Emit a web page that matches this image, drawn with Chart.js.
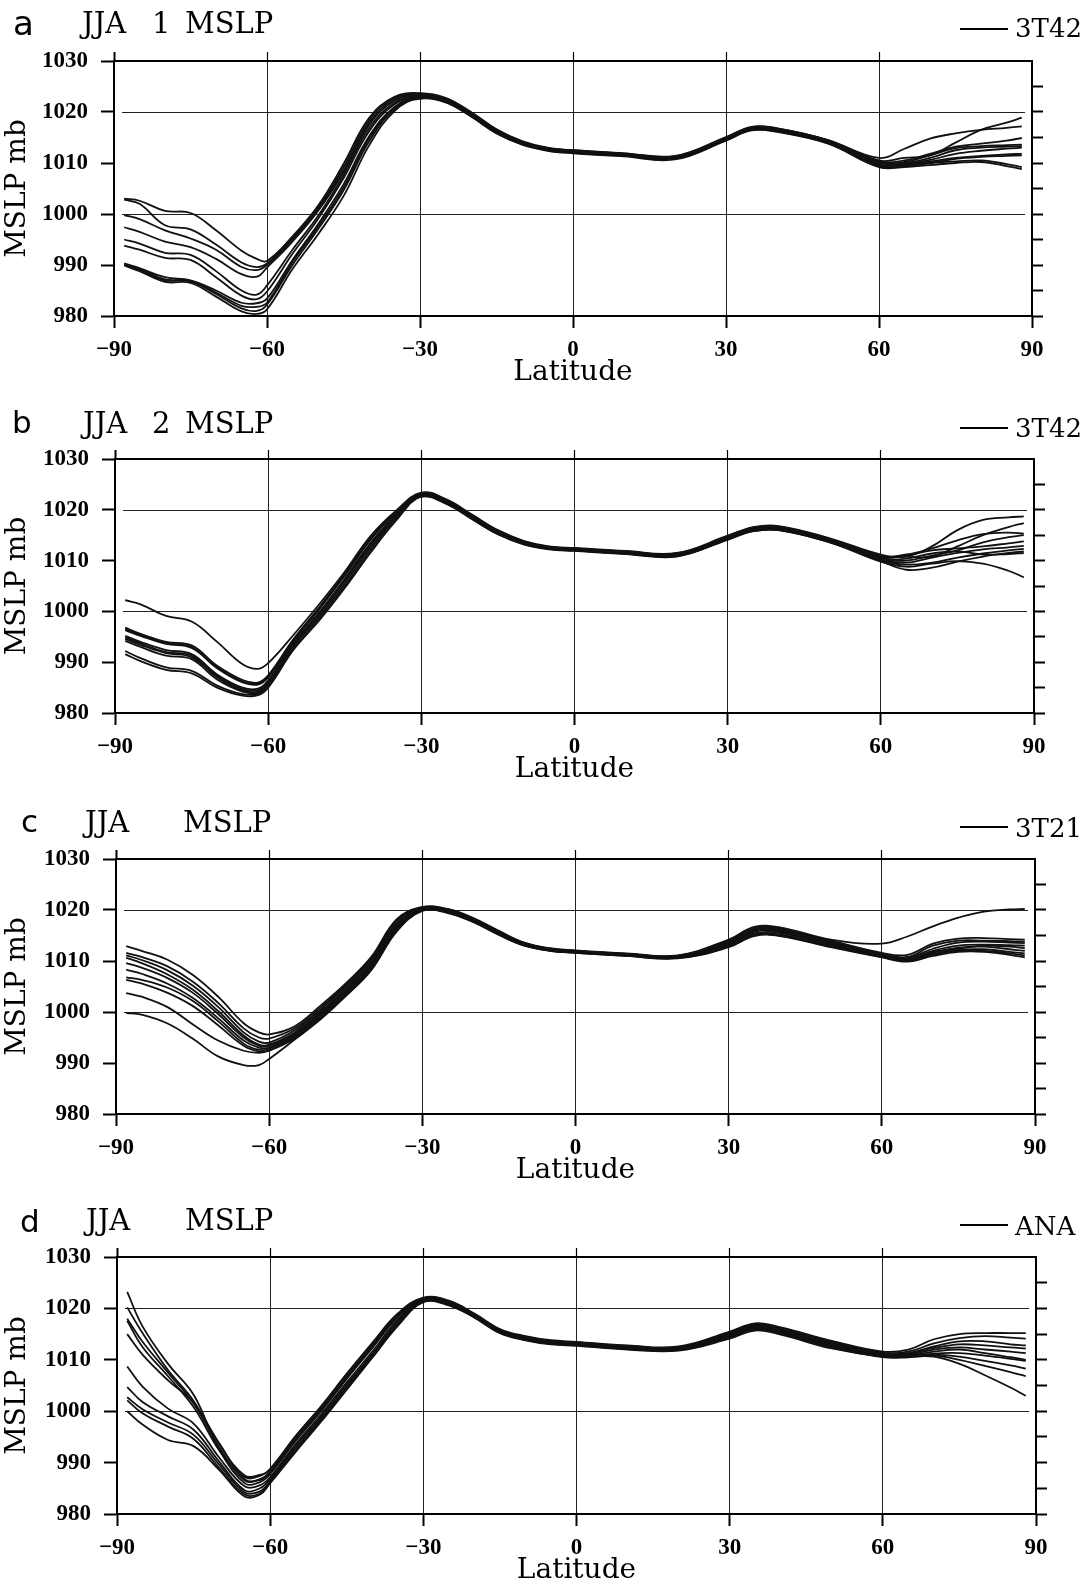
<!DOCTYPE html>
<html>
<head>
<meta charset="utf-8">
<script src="https://cdn.jsdelivr.net/npm/chart.js@4.4.1/dist/chart.umd.min.js"></script>
<style>
  html, body { margin: 0; padding: 0; background: #fff; overflow: hidden; }
  body { width: 1091px; height: 1586px; position: relative; }
  canvas { position: absolute; left: 0; }
  .ttl { position: absolute; line-height: 1; white-space: pre; color: #000; font-family: "DejaVu Serif", serif; }
  .let { position: absolute; line-height: 1; color: #000; font-family: "DejaVu Sans", sans-serif; }
  .key { position: absolute; height: 2px; background: #000; }
</style>
</head>
<body>
<script>
// ---- JJA zonal-mean MSLP, one line per ensemble member ----
const lat = [-88, -85, -80, -75, -70, -65, -62, -60, -55, -50, -45, -40, -35,
  -30, -25, -20, -15, -10, -5, 0, 10, 20, 30, 35, 40, 50,
  60, 65, 70, 75, 80, 85, 88];
const gridLevels = [1000, 1020];

// a: JJA 1, 3T42
const jja1 = [
  [1003.0, 1002.6, 1000.6, 1000.2, 996.8, 992.8, 991.2, 990.8, 995.6, 1001.6, 1009.8, 1018.8, 1023.0, 1023.7, 1022.8, 1020.0, 1016.6, 1014.3, 1013.0, 1012.5, 1011.9, 1011.4, 1015.1, 1017.1, 1016.8, 1014.5, 1010.5, 1011.0, 1011.5, 1014.0, 1016.5, 1017.9, 1018.9],
  [1002.8, 1002.0, 997.8, 997.0, 994.0, 990.5, 989.6, 990.3, 995.3, 1001.2, 1009.2, 1018.3, 1022.8, 1023.6, 1022.7, 1019.9, 1016.5, 1014.2, 1012.9, 1012.5, 1011.9, 1011.3, 1015.0, 1017.0, 1016.8, 1014.5, 1011.0, 1012.8, 1014.8, 1015.8, 1016.5, 1016.9, 1017.2],
  [999.8, 999.0, 996.8, 995.2, 993.0, 989.6, 989.0, 990.0, 995.0, 1000.9, 1008.6, 1017.8, 1022.5, 1023.5, 1022.6, 1019.8, 1016.5, 1014.1, 1012.9, 1012.4, 1011.8, 1011.2, 1014.9, 1016.9, 1016.7, 1014.4, 1010.3, 1010.5, 1011.8, 1013.2, 1013.8, 1014.4, 1014.9],
  [997.4, 996.5, 994.6, 993.5, 991.2, 988.2, 987.7, 989.5, 994.6, 1000.6, 1008.2, 1017.4, 1022.2, 1023.4, 1022.5, 1019.7, 1016.4, 1014.0, 1012.8, 1012.3, 1011.7, 1011.1, 1014.8, 1016.8, 1016.6, 1014.3, 1010.0, 1010.2, 1011.5, 1012.9, 1013.3, 1013.5, 1013.6],
  [995.0, 994.2, 992.4, 992.0, 988.8, 985.0, 984.2, 986.0, 993.0, 999.6, 1007.6, 1016.8, 1021.8, 1023.3, 1022.4, 1019.6, 1016.3, 1014.0, 1012.8, 1012.3, 1011.7, 1011.1, 1014.8, 1016.8, 1016.5, 1014.2, 1010.1, 1010.0, 1011.0, 1012.5, 1013.0, 1013.2, 1013.3],
  [993.8, 993.0, 991.4, 991.0, 987.6, 984.0, 983.3, 984.8, 992.2, 999.0, 1007.0, 1016.2, 1021.5, 1023.2, 1022.3, 1019.5, 1016.2, 1013.9, 1012.7, 1012.2, 1011.6, 1011.0, 1014.7, 1016.7, 1016.4, 1014.1, 1009.8, 1009.8, 1010.6, 1011.8, 1012.4, 1012.8, 1013.0],
  [990.3, 989.4, 987.6, 987.0, 985.0, 982.6, 982.5, 983.4, 991.0, 998.0, 1005.8, 1015.2, 1021.0, 1023.1, 1022.2, 1019.4, 1016.1, 1013.9, 1012.7, 1012.2, 1011.6, 1011.0, 1014.6, 1016.6, 1016.4, 1014.0, 1009.6, 1009.7, 1010.3, 1011.0, 1011.4, 1011.7, 1011.8],
  [990.1, 989.0, 987.0, 986.8, 984.3, 981.5, 981.0, 982.2, 990.0, 997.0, 1004.6, 1014.2, 1020.6, 1022.9, 1022.1, 1019.3, 1016.0, 1013.8, 1012.6, 1012.1, 1011.5, 1010.9, 1014.6, 1016.6, 1016.3, 1014.0, 1009.5, 1009.4, 1010.0, 1010.8, 1011.2, 1011.4, 1011.5],
  [989.9, 988.8, 986.7, 986.5, 983.8, 980.9, 980.4, 981.3, 989.2, 996.0, 1003.5, 1013.4, 1020.2, 1022.8, 1022.0, 1019.2, 1015.9, 1013.7, 1012.5, 1012.0, 1011.4, 1010.8, 1014.5, 1016.5, 1016.2, 1013.9, 1009.3, 1009.5, 1010.0, 1010.3, 1010.5, 1009.8, 1009.2],
  [990.0, 989.2, 987.2, 986.9, 984.6, 982.0, 981.8, 982.6, 990.6, 997.5, 1005.2, 1014.8, 1020.8, 1022.6, 1021.9, 1019.1, 1015.8, 1013.6, 1012.4, 1011.9, 1011.3, 1010.7, 1014.4, 1016.4, 1016.1, 1013.8, 1009.2, 1009.2, 1009.6, 1010.0, 1010.2, 1009.4, 1008.8],
];

// b: JJA 2, 3T42
const jja2 = [
  [1002.2, 1001.4, 999.1, 998.0, 994.0, 989.6, 988.7, 989.8, 995.4, 1001.4, 1007.8, 1014.8, 1019.8, 1023.4, 1022.0, 1019.0, 1016.0, 1013.9, 1012.8, 1012.5, 1011.9, 1011.5, 1014.9, 1016.6, 1016.8, 1014.4, 1011.2, 1010.8, 1012.8, 1016.0, 1018.0, 1018.5, 1018.7],
  [996.8, 995.6, 994.0, 993.3, 989.3, 986.5, 986.0, 987.4, 994.6, 1000.8, 1007.4, 1014.4, 1019.6, 1023.3, 1021.9, 1018.9, 1015.9, 1013.8, 1012.7, 1012.4, 1011.8, 1011.4, 1014.8, 1016.5, 1016.7, 1014.3, 1011.0, 1010.8, 1010.8, 1012.8, 1015.0, 1016.6, 1017.4],
  [996.3, 995.2, 993.6, 992.8, 988.8, 986.0, 985.6, 987.0, 994.2, 1000.4, 1007.0, 1014.0, 1019.4, 1023.2, 1021.8, 1018.8, 1015.8, 1013.8, 1012.7, 1012.4, 1011.8, 1011.3, 1014.7, 1016.4, 1016.6, 1014.2, 1010.8, 1011.2, 1012.4, 1014.0, 1015.2, 1015.5, 1015.3],
  [995.2, 994.0, 992.4, 991.6, 987.6, 985.0, 984.8, 986.4, 993.8, 999.8, 1006.4, 1013.4, 1019.0, 1023.1, 1021.7, 1018.7, 1015.7, 1013.7, 1012.6, 1012.3, 1011.7, 1011.2, 1014.6, 1016.3, 1016.5, 1014.1, 1010.4, 1010.0, 1011.0, 1012.0, 1013.6, 1014.6, 1015.0],
  [994.6, 993.4, 991.8, 991.0, 987.0, 984.4, 984.2, 985.9, 993.4, 999.4, 1006.0, 1013.0, 1018.8, 1023.0, 1021.6, 1018.6, 1015.6, 1013.6, 1012.5, 1012.2, 1011.6, 1011.2, 1014.5, 1016.2, 1016.4, 1014.0, 1010.6, 1011.0, 1012.0, 1012.4, 1012.8, 1013.4, 1013.8],
  [994.2, 993.0, 991.3, 990.6, 986.6, 984.2, 984.0, 985.6, 993.2, 999.0, 1005.5, 1012.5, 1018.5, 1022.9, 1021.5, 1018.5, 1015.5, 1013.5, 1012.5, 1012.2, 1011.6, 1011.1, 1014.4, 1016.1, 1016.3, 1013.9, 1010.2, 1009.6, 1010.6, 1011.5, 1012.2, 1012.6, 1012.9],
  [992.2, 990.8, 989.0, 988.3, 985.4, 983.7, 983.8, 985.2, 992.8, 998.6, 1005.0, 1012.0, 1018.2, 1022.8, 1021.4, 1018.4, 1015.4, 1013.4, 1012.4, 1012.1, 1011.5, 1011.0, 1014.3, 1016.0, 1016.2, 1013.8, 1010.0, 1009.2, 1009.6, 1010.6, 1011.4, 1012.0, 1012.3],
  [991.6, 990.2, 988.5, 987.8, 985.0, 983.4, 983.5, 985.0, 992.5, 998.2, 1004.6, 1011.5, 1017.8, 1022.7, 1021.3, 1018.3, 1015.3, 1013.4, 1012.3, 1012.0, 1011.4, 1010.9, 1014.2, 1015.9, 1016.1, 1013.7, 1009.9, 1008.2, 1008.6, 1009.8, 1010.8, 1011.5, 1011.8],
  [996.6, 995.4, 993.8, 993.0, 989.0, 986.2, 985.8, 987.2, 994.4, 1000.6, 1007.2, 1014.2, 1019.5, 1022.6, 1021.2, 1018.2, 1015.2, 1013.3, 1012.3, 1012.0, 1011.4, 1010.9, 1014.2, 1015.8, 1016.0, 1013.6, 1010.3, 1010.4, 1011.4, 1011.8, 1011.2, 1011.3, 1011.5],
  [994.9, 993.7, 992.0, 991.3, 987.3, 984.7, 984.5, 986.2, 993.6, 999.6, 1006.2, 1013.2, 1018.9, 1022.6, 1021.1, 1018.1, 1015.2, 1013.2, 1012.2, 1011.9, 1011.3, 1010.8, 1014.1, 1015.8, 1016.0, 1013.6, 1009.8, 1008.8, 1009.4, 1009.9, 1009.4, 1008.0, 1006.7],
];

// c: JJA, 3T21
const t21 = [
  [1012.9, 1012.0, 1010.3, 1007.3, 1003.0, 997.8, 996.0, 995.6, 997.2, 1001.2, 1005.6, 1010.8, 1018.2, 1020.6, 1020.2, 1018.4, 1015.9, 1013.6, 1012.5, 1012.1, 1011.5, 1011.1, 1014.2, 1016.7, 1016.6, 1014.2, 1013.4, 1014.8, 1016.8, 1018.5, 1019.7, 1020.1, 1020.2],
  [1011.6, 1010.8, 1009.0, 1006.0, 1001.8, 996.8, 995.0, 994.8, 996.8, 1000.8, 1005.3, 1010.5, 1018.0, 1020.5, 1020.1, 1018.3, 1015.8, 1013.5, 1012.4, 1012.0, 1011.4, 1011.0, 1014.0, 1016.5, 1016.4, 1014.0, 1011.6, 1011.2, 1013.4, 1014.4, 1014.5, 1014.3, 1014.2],
  [1011.1, 1010.2, 1008.2, 1005.2, 1001.0, 996.0, 994.2, 994.0, 996.4, 1000.4, 1005.0, 1010.2, 1017.8, 1020.4, 1020.0, 1018.2, 1015.7, 1013.5, 1012.4, 1012.0, 1011.4, 1011.0, 1013.9, 1016.3, 1016.3, 1013.9, 1011.4, 1010.8, 1013.0, 1014.0, 1014.0, 1013.9, 1013.8],
  [1010.6, 1009.6, 1007.4, 1004.4, 1000.2, 995.4, 993.6, 993.6, 996.0, 1000.0, 1004.6, 1009.8, 1017.4, 1020.3, 1019.9, 1018.1, 1015.6, 1013.4, 1012.3, 1011.9, 1011.3, 1010.9, 1013.7, 1016.1, 1016.1, 1013.7, 1011.3, 1010.6, 1012.4, 1013.6, 1013.8, 1013.6, 1013.5],
  [1009.6, 1008.7, 1006.7, 1003.8, 999.6, 995.0, 993.4, 993.4, 995.8, 999.8, 1004.4, 1009.6, 1017.2, 1020.2, 1019.8, 1018.0, 1015.5, 1013.3, 1012.2, 1011.8, 1011.2, 1010.8, 1013.5, 1015.9, 1015.9, 1013.5, 1011.2, 1010.4, 1012.0, 1013.0, 1013.2, 1013.1, 1013.0],
  [1008.3, 1007.5, 1005.6, 1002.8, 998.8, 994.4, 993.0, 993.0, 995.5, 999.5, 1004.1, 1009.3, 1017.0, 1020.2, 1019.8, 1018.0, 1015.5, 1013.3, 1012.2, 1011.8, 1011.2, 1010.8, 1013.3, 1015.7, 1015.7, 1013.3, 1011.1, 1010.3, 1011.8, 1012.4, 1013.0, 1012.8, 1012.5],
  [1006.8, 1006.3, 1004.8, 1002.2, 998.2, 993.8, 992.6, 992.8, 995.3, 999.2, 1003.8, 1009.0, 1016.6, 1020.1, 1019.7, 1017.9, 1015.4, 1013.2, 1012.1, 1011.7, 1011.1, 1010.7, 1013.1, 1015.4, 1015.5, 1013.1, 1011.0, 1010.2, 1011.6, 1012.6, 1012.8, 1012.3, 1012.0],
  [1006.3, 1005.6, 1003.8, 1001.2, 997.4, 993.4, 992.3, 992.5, 995.0, 998.9, 1003.5, 1008.7, 1016.3, 1020.0, 1019.6, 1017.8, 1015.3, 1013.1, 1012.1, 1011.7, 1011.1, 1010.6, 1012.9, 1015.2, 1015.2, 1012.9, 1010.9, 1010.1, 1011.4, 1012.2, 1012.3, 1011.8, 1011.5],
  [1003.7, 1003.0, 1001.0, 997.6, 994.4, 992.4, 992.0, 992.4, 994.8, 998.7, 1003.3, 1008.4, 1016.0, 1019.9, 1019.5, 1017.7, 1015.2, 1013.0, 1012.0, 1011.6, 1011.0, 1010.6, 1012.8, 1015.0, 1015.0, 1012.8, 1010.8, 1010.0, 1011.2, 1012.0, 1012.0, 1011.5, 1011.1],
  [999.8, 999.5, 997.8, 994.8, 991.3, 989.6, 989.6, 990.8, 994.6, 998.5, 1003.1, 1008.2, 1015.8, 1019.8, 1019.4, 1017.6, 1015.1, 1013.0, 1012.0, 1011.6, 1011.0, 1010.5, 1012.7, 1014.9, 1014.9, 1012.7, 1010.7, 1009.9, 1011.0, 1011.8, 1011.8, 1011.2, 1010.7],
];

// d: JJA, analyses
const ana = [
  [1023.2, 1016.5, 1009.2, 1003.2, 992.8, 987.2, 987.4, 988.8, 995.2, 1001.0, 1007.3, 1013.3, 1019.0, 1022.1, 1021.5, 1019.0, 1016.0, 1014.6, 1013.8, 1013.5, 1012.8, 1012.6, 1015.5, 1017.1, 1016.3, 1013.7, 1011.6, 1012.0, 1014.0, 1015.0, 1015.2, 1015.2, 1015.2],
  [1020.2, 1015.2, 1008.0, 1002.0, 993.6, 987.5, 987.6, 988.6, 995.0, 1000.8, 1007.0, 1013.0, 1018.8, 1022.0, 1021.4, 1018.9, 1015.9, 1014.5, 1013.7, 1013.4, 1012.7, 1012.5, 1015.3, 1016.9, 1016.1, 1013.5, 1011.4, 1011.6, 1013.2, 1014.2, 1014.6, 1014.3, 1014.1],
  [1018.0, 1013.5, 1007.5, 1001.5, 993.0, 986.5, 986.8, 988.2, 994.6, 1000.4, 1006.6, 1012.6, 1018.5, 1021.9, 1021.3, 1018.8, 1015.8, 1014.4, 1013.6, 1013.3, 1012.6, 1012.4, 1015.1, 1016.7, 1015.9, 1013.3, 1011.2, 1011.3, 1012.6, 1013.6, 1013.6, 1013.0, 1012.8],
  [1017.6, 1012.5, 1006.8, 1000.8, 992.4, 986.0, 986.2, 987.8, 994.2, 1000.0, 1006.3, 1012.3, 1018.3, 1021.8, 1021.2, 1018.7, 1015.7, 1014.3, 1013.5, 1013.2, 1012.5, 1012.3, 1015.0, 1016.6, 1015.8, 1013.2, 1011.0, 1011.2, 1012.3, 1013.0, 1012.8, 1012.4, 1012.2],
  [1015.0, 1011.0, 1006.0, 1001.6, 993.8, 986.8, 986.6, 988.0, 994.4, 1000.2, 1006.4, 1012.4, 1018.4, 1021.7, 1021.1, 1018.6, 1015.6, 1014.2, 1013.4, 1013.1, 1012.4, 1012.2, 1014.9, 1016.5, 1015.7, 1013.1, 1010.9, 1011.0, 1012.0, 1012.4, 1012.0, 1011.6, 1011.3],
  [1008.7, 1004.8, 1000.5, 997.6, 991.0, 985.4, 985.6, 987.2, 993.6, 999.4, 1005.6, 1011.6, 1017.8, 1021.6, 1021.0, 1018.6, 1015.6, 1014.2, 1013.4, 1013.1, 1012.4, 1012.2, 1014.7, 1016.3, 1015.5, 1012.9, 1010.8, 1010.8, 1011.6, 1012.0, 1011.3, 1010.5, 1010.0],
  [1004.7, 1001.8, 999.0, 996.4, 990.2, 984.6, 985.0, 986.8, 993.2, 999.0, 1005.2, 1011.1, 1017.5, 1021.5, 1020.9, 1018.5, 1015.5, 1014.1, 1013.3, 1013.0, 1012.3, 1012.1, 1014.6, 1016.2, 1015.4, 1012.8, 1010.7, 1010.6, 1011.2, 1011.3, 1010.8, 1010.2, 1009.8],
  [1002.7, 1000.4, 997.8, 995.4, 989.6, 984.2, 984.4, 986.4, 992.8, 998.6, 1004.8, 1010.8, 1017.1, 1021.4, 1020.8, 1018.4, 1015.4, 1014.0, 1013.2, 1012.9, 1012.2, 1012.0, 1014.5, 1016.1, 1015.3, 1012.6, 1010.6, 1010.7, 1011.0, 1010.6, 1009.8, 1008.9, 1008.3],
  [1002.1, 999.6, 997.0, 994.6, 989.0, 983.8, 984.0, 986.2, 992.4, 998.3, 1004.5, 1010.6, 1016.9, 1021.3, 1020.7, 1018.3, 1015.3, 1013.9, 1013.1, 1012.8, 1012.1, 1011.9, 1014.3, 1015.9, 1015.1, 1012.4, 1010.5, 1010.5, 1010.8, 1010.0, 1008.8, 1007.6, 1006.8],
  [1000.0, 997.4, 994.4, 993.2, 988.6, 983.4, 983.8, 986.0, 992.1, 998.0, 1004.2, 1010.4, 1016.6, 1021.2, 1020.6, 1018.2, 1015.2, 1013.8, 1013.0, 1012.7, 1012.0, 1011.8, 1014.1, 1015.7, 1014.9, 1012.2, 1010.6, 1010.6, 1010.6, 1009.2, 1007.0, 1004.6, 1003.0],
];

const panelLetters = ['a', 'b', 'c', 'd'];
const panelTitles = [['JJA', '1', 'MSLP'], ['JJA', '2', 'MSLP'], ['JJA', '', 'MSLP'], ['JJA', '', 'MSLP']];
const legendLabels = ['3T42', '3T42', '3T21', 'ANA'];
const panelData = [jja1, jja2, t21, ana];

// page layout (pixels) for each panel
const W = 1091;
const boxes = [
  { top: 0,    height: 396, left: 114, right: 1032, plotTop: 61,   plotBottom: 316,  letter: [13, 6, 34],    titleTop: 8.5,    titleX: [82, 152, 185], keyY: 29,   keyTop: 15 },
  { top: 396,  height: 397, left: 115, right: 1034, plotTop: 459,  plotBottom: 713,  letter: [12, 407, 31],  titleTop: 408.5,  titleX: [83, 152, 185], keyY: 428,  keyTop: 415 },
  { top: 793,  height: 401, left: 116, right: 1035, plotTop: 859,  plotBottom: 1114, letter: [21, 806, 31],  titleTop: 807.5,  titleX: [85, 0, 183],   keyY: 827,  keyTop: 815 },
  { top: 1194, height: 400, left: 117, right: 1036, plotTop: 1257, plotBottom: 1514, letter: [20, 1206, 31], titleTop: 1205.5, titleX: [86, 0, 185],   keyY: 1225, keyTop: 1213 },
];

const tickFont = { family: 'Liberation Serif', size: 23, weight: 'bold' };
const titleFont = { family: 'DejaVu Serif', size: 28 };
const clear = 'rgba(0,0,0,0)';

// 1000 / 1020 reference lines stop a little short of the frame
const hLines = {
  id: 'hLines',
  beforeDatasetsDraw(chart) {
    const { ctx, chartArea: a, scales: { y } } = chart;
    ctx.save();
    ctx.strokeStyle = '#222';
    ctx.lineWidth = 1;
    gridLevels.forEach(v => {
      const py = Math.round(y.getPixelForValue(v)) + 0.5;
      ctx.beginPath();
      ctx.moveTo(a.left + 8, py);
      ctx.lineTo(a.right - 7, py);
      ctx.stroke();
    });
    ctx.restore();
  },
};

function addText(cls, txt, x, y, size) {
  const d = document.createElement('div');
  d.className = cls;
  d.textContent = txt;
  d.style.left = x + 'px';
  d.style.top = y + 'px';
  d.style.fontSize = size + 'px';
  document.body.appendChild(d);
}

function drawPanel(i) {
  const b = boxes[i];
  const cv = document.createElement('canvas');
  cv.width = W;
  cv.height = b.height;
  cv.style.top = b.top + 'px';
  document.body.appendChild(cv);

  const T = b.plotTop - b.top;
  const B = b.top + b.height - b.plotBottom;
  const R = W - b.right;

  const datasets = panelData[i].map(m => ({
    data: m.map((v, k) => ({ x: lat[k], y: v })),
    borderColor: '#111',
    borderWidth: 1.8,
    pointRadius: 0,
    fill: false,
    tension: 0.4,
  }));

  new Chart(cv.getContext('2d'), {
    type: 'line',
    data: { datasets },
    plugins: [hLines],
    options: {
      responsive: false, animation: false, devicePixelRatio: 1,
      layout: { padding: 0 },
      plugins: { legend: { display: false }, tooltip: { enabled: false } },
      scales: {
        x: {
          type: 'linear', position: 'bottom', min: -90, max: 90,
          ticks: { stepSize: 30, color: '#000', font: tickFont, padding: 8,
            callback: v => v < 0 ? '\u2212' + (-v) : String(v) },
          grid: { color: c => (c.tick && Math.abs(c.tick.value) === 90) ? clear : '#222',
            lineWidth: 1, tickLength: 12, tickColor: '#000', tickWidth: 2 },
          border: { display: true, color: '#000', width: 2 },
          title: { display: true, text: 'Latitude', color: '#000', font: titleFont, padding: { top: 0, bottom: 6 } },
          afterFit: s => { s.height = B; },
        },
        x2: {
          type: 'linear', position: 'top', min: -90, max: 90,
          ticks: { stepSize: 30, display: false },
          grid: { drawOnChartArea: false, tickLength: 9,
            tickColor: c => (c.tick && c.tick.value === 90) ? clear : '#000',
            tickWidth: c => (c.tick && c.tick.value === -90) ? 2 : 1.2 },
          border: { display: true, color: '#000', width: 2 },
          afterFit: s => { s.height = T; },
        },
        y: {
          type: 'linear', position: 'left', min: 980, max: 1030,
          ticks: { stepSize: 5, color: '#000', font: tickFont, padding: 13, callback: v => String(v) },
          grid: { drawOnChartArea: false, tickLength: 13, tickColor: '#000', tickWidth: 2 },
          border: { display: true, color: '#000', width: 2 },
          title: { display: true, text: 'MSLP mb', color: '#000', font: titleFont, padding: { top: 1, bottom: 0 } },
          afterFit: s => { s.width = b.left; },
        },
        y2: {
          type: 'linear', position: 'right', min: 980, max: 1030,
          ticks: { stepSize: 5, display: false },
          grid: { drawOnChartArea: false, tickLength: 11, tickWidth: 2,
            tickColor: c => (c.tick && c.tick.value === 1030) ? clear : '#000' },
          border: { display: true, color: '#000', width: 2 },
          afterFit: s => { s.width = R; },
        },
      },
    },
  });

  // panel letter, title words, legend key
  addText('let', panelLetters[i], b.letter[0], b.letter[1], b.letter[2]);
  panelTitles[i].forEach((w, k) => { if (w) addText('ttl', w, b.titleX[k], b.titleTop, 29); });
  const key = document.createElement('div');
  key.className = 'key';
  key.style.left = '960px';
  key.style.width = '48px';
  key.style.top = (b.keyY - 1) + 'px';
  document.body.appendChild(key);
  addText('ttl', legendLabels[i], 1015, b.keyTop, 26);
}

panelData.forEach((_, i) => drawPanel(i));
</script>
</body>
</html>
